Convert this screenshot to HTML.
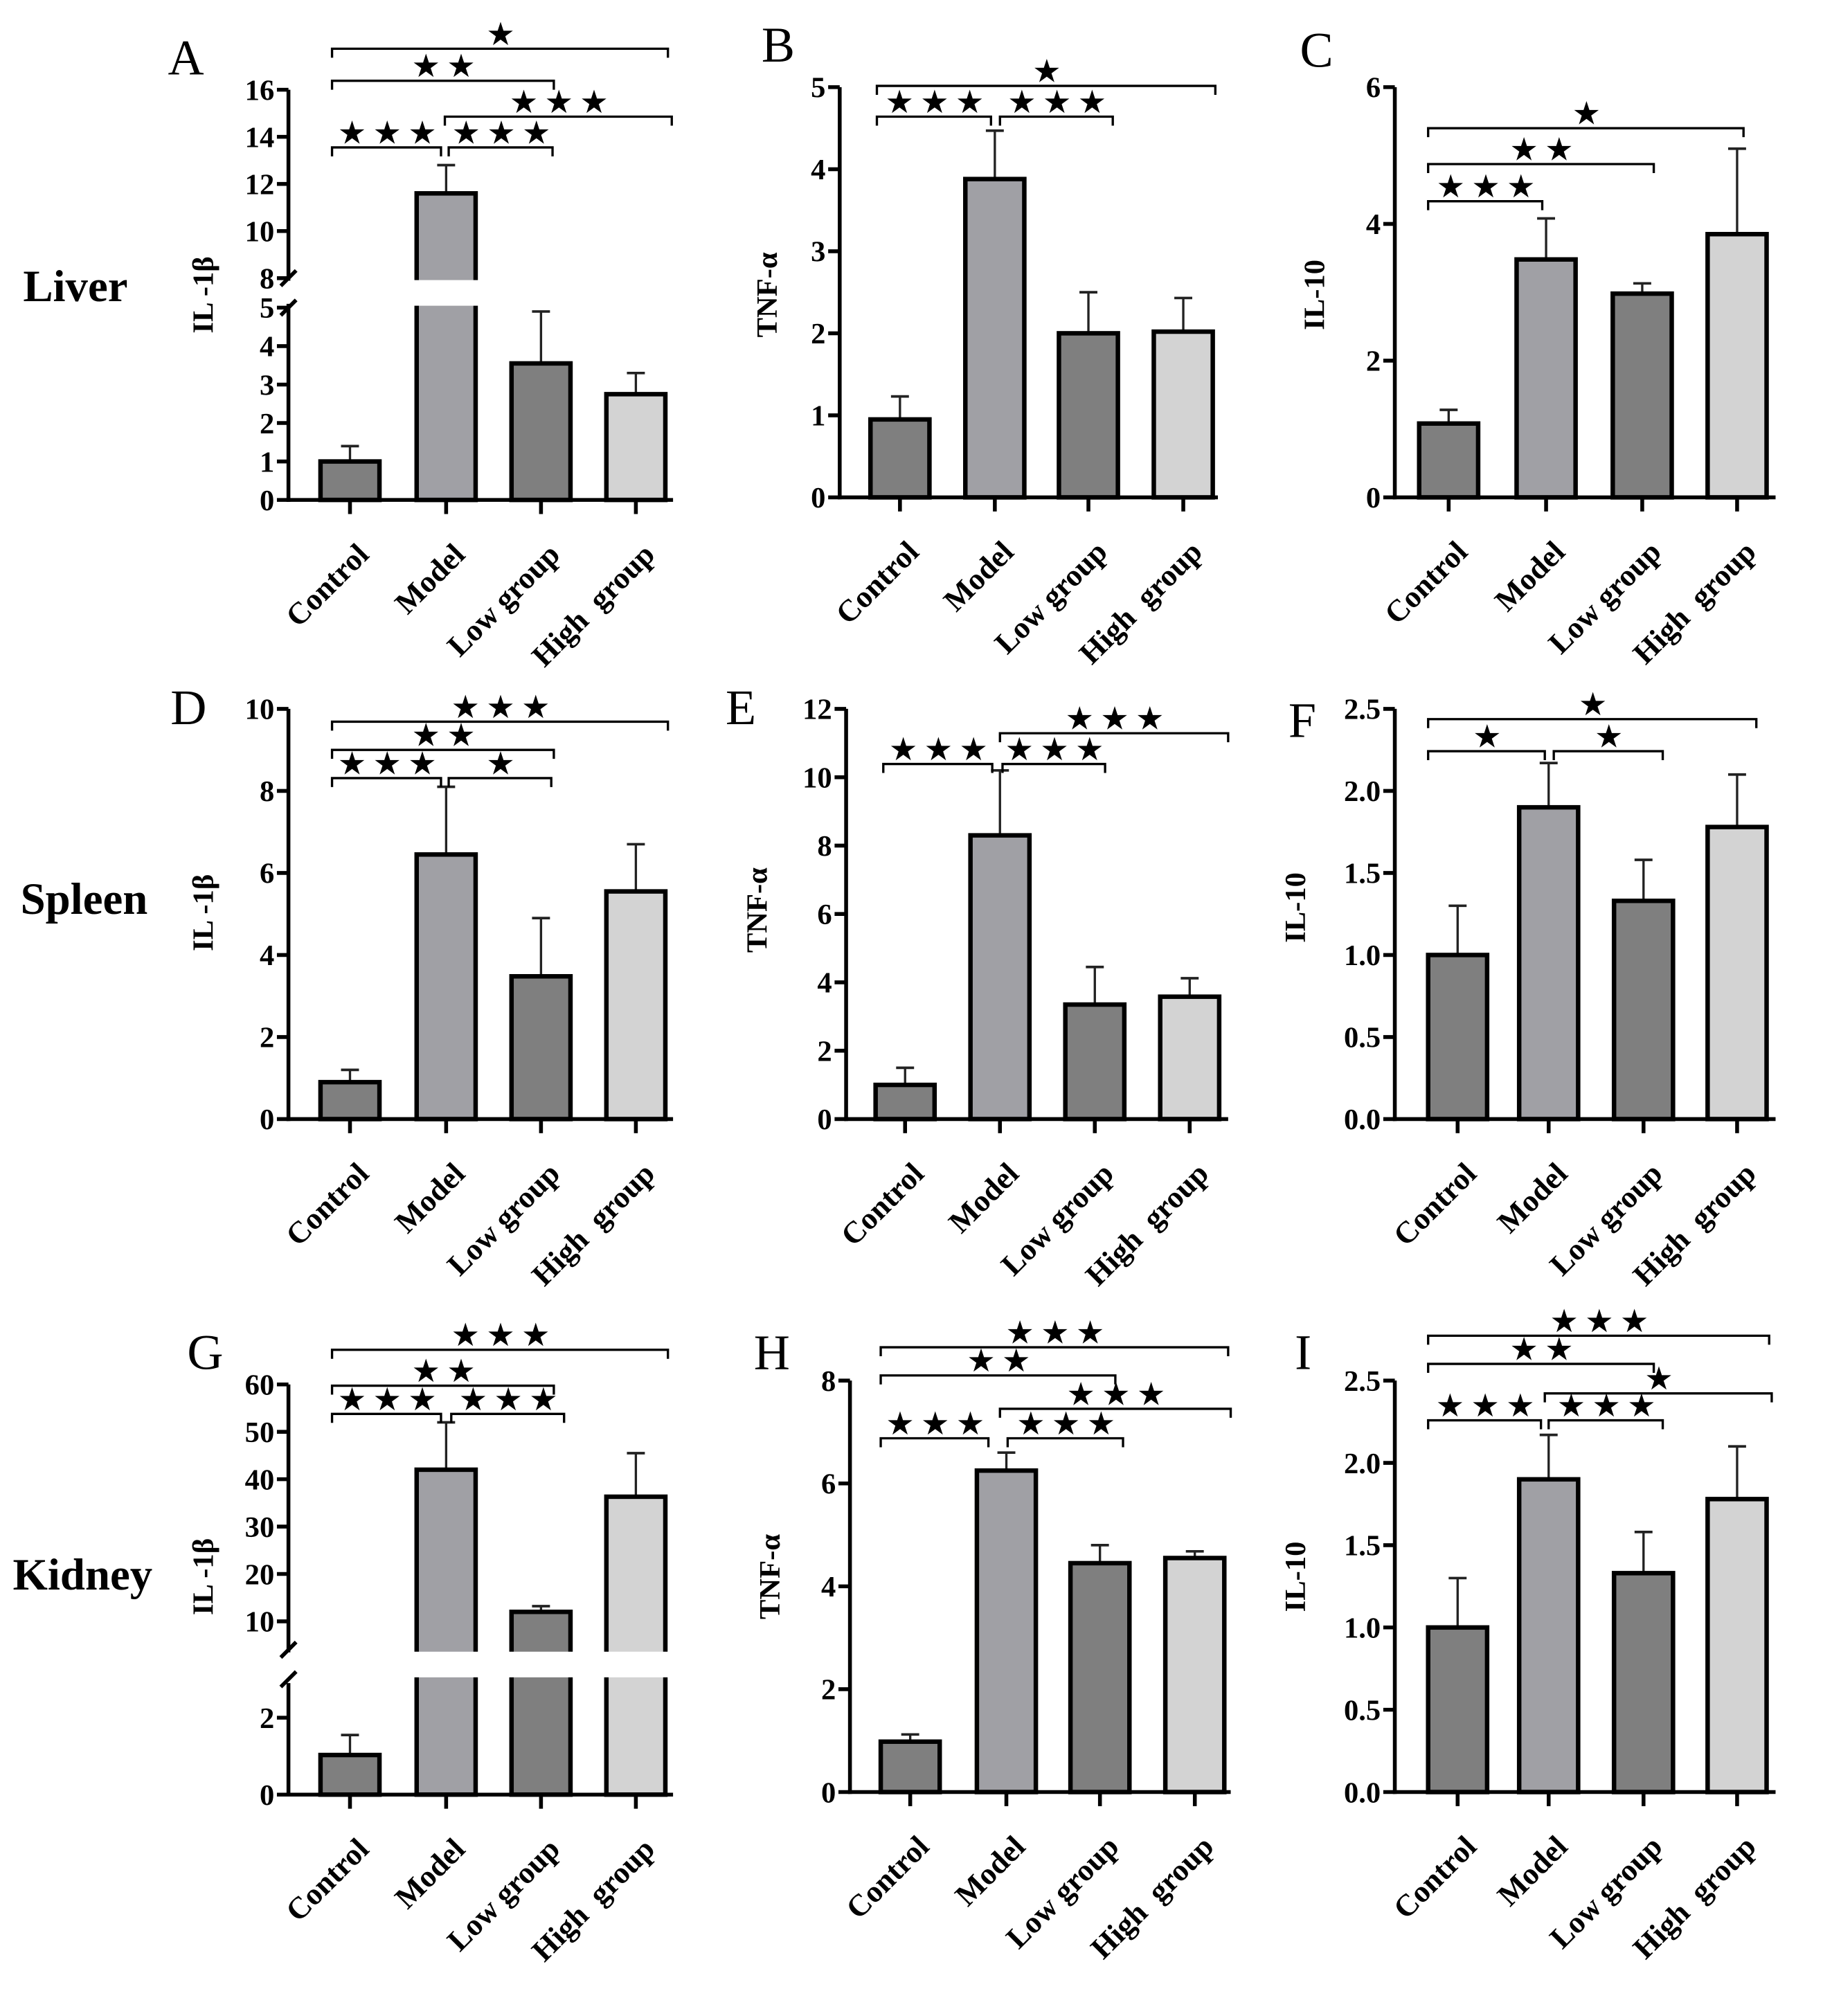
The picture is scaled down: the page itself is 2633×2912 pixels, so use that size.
<!DOCTYPE html>
<html><head><meta charset="utf-8"><style>
html,body{margin:0;padding:0;background:#fff}
svg{display:block}
text{font-family:"Liberation Serif",serif;font-weight:bold;fill:#000;white-space:pre}
.star{font-family:"DejaVu Sans",sans-serif;font-weight:normal}
</style></head><body>
<svg id="fig" width="2633" height="2912" viewBox="0 0 1422 1572.7" preserveAspectRatio="none" xmlns="http://www.w3.org/2000/svg"></svg>
<script>
const categories = ["Control", "Model", "Low group", "High  group"];
const fills = ["#7f7f7f", "#a0a0a5", "#7f7f7f", "#d3d3d3"];
const aValues = [1.0, 11.6, 3.55, 2.75];  const aErrors = [1.4, 12.8, 4.9, 3.3];
const bValues = [0.95, 3.88, 2.0, 2.02];  const bErrors = [1.23, 4.47, 2.5, 2.43];
const cValues = [1.08, 3.48, 2.98, 3.85]; const cErrors = [1.28, 4.08, 3.13, 5.1];
const dValues = [0.9, 6.45, 3.48, 5.55];  const dErrors = [1.2, 8.1, 4.9, 6.7];
const eValues = [1.0, 8.3, 3.35, 3.58];   const eErrors = [1.5, 10.2, 4.45, 4.12];
const fValues = [1.0, 1.9, 1.33, 1.78];   const fErrors = [1.3, 2.17, 1.58, 2.1];
const gValues = [1.03, 42, 12, 36.3];     const gErrors = [1.55, 52, 13.2, 45.5];
const hValues = [0.98, 6.25, 4.45, 4.55]; const hErrors = [1.12, 6.6, 4.8, 4.68];
const iValues = [1.0, 1.9, 1.33, 1.78];   const iErrors = [1.3, 2.17, 1.58, 2.1];
const ticksA_low = [0,1,2,3,4,5]; const ticksA_high = [8,10,12,14,16];
const ticksB = [0,1,2,3,4,5]; const ticksC = [0,2,4,6];
const ticksD = [0,2,4,6,8,10]; const ticksE = [0,2,4,6,8,10,12];
const ticksF = ["0.0","0.5","1.0","1.5","2.0","2.5"];
const ticksG_low = [0,2]; const ticksG_high = [10,20,30,40,50,60];
const ticksH = [0,2,4,6,8]; const ticksI = ["0.0","0.5","1.0","1.5","2.0","2.5"];

const NS = "http://www.w3.org/2000/svg";
const svg = document.getElementById("fig");
function el(tag, attrs, parent, txt) {
  const e = document.createElementNS(NS, tag);
  for (const k in attrs) e.setAttribute(k, attrs[k]);
  if (txt !== undefined) e.textContent = txt;
  (parent || svg).appendChild(e);
  return e;
}

const panels = [
 {id:"a", letter:"A", lx:131, ly:58, ylab:"IL -1β", ylx:166, yly:230, ax:225, base:390, xs:[273,348,422,496], right:525,
  vals:aValues, errs:aErrors,
  seg:[{lo:0,hi:5,y0:390,y1:240,ticks:ticksA_low},{lo:8,hi:16,y0:217,y1:70,ticks:ticksA_high}], gapTop:217, gapBot:240,
  br:[[38,259,521,1],[63,259,432,2],[91,347,524,3],[115,259,344,3],[115,350,431,3]]},
 {id:"b", letter:"B", lx:594, ly:48, ylab:"TNF-α", ylx:606, yly:230, ax:655, base:388, xs:[702,776,849,923], right:950,
  vals:bValues, errs:bErrors, seg:[{lo:0,hi:5,y0:388,y1:68,ticks:ticksB}],
  br:[[67,684,948,1],[91,684,773,3],[91,780,868,3]]},
 {id:"c", letter:"C", lx:1014, ly:52, ylab:"IL-10", ylx:1033, yly:230, ax:1088, base:388, xs:[1130,1206,1281,1355], right:1385,
  vals:cValues, errs:cErrors, seg:[{lo:0,hi:6,y0:388,y1:68,ticks:ticksC}],
  br:[[100,1114,1360,1],[128,1114,1290,2],[157,1114,1203,3]]},
 {id:"d", letter:"D", lx:133, ly:565, ylab:"IL -1β", ylx:166, yly:712, ax:225, base:873, xs:[273,348,422,496], right:525,
  vals:dValues, errs:dErrors, seg:[{lo:0,hi:10,y0:873,y1:553,ticks:ticksD}],
  br:[[563,259,521,3],[585,259,432,2],[607,259,344,3],[607,350,430,1]]},
 {id:"e", letter:"E", lx:566, ly:565, ylab:"TNF-α", ylx:598, yly:710, ax:660, base:873, xs:[706,780,854,928], right:958,
  vals:eValues, errs:eErrors, seg:[{lo:0,hi:12,y0:873,y1:553,ticks:ticksE}],
  br:[[572,780,958,3],[596,689,774,3],[596,782,862,3]]},
 {id:"f", letter:"F", lx:1005, ly:575, ylab:"IL-10", ylx:1018, yly:708, ax:1088, base:873, xs:[1137,1208,1282,1355], right:1385,
  vals:fValues, errs:fErrors, seg:[{lo:0,hi:2.5,y0:873,y1:553,ticks:ticksF}],
  br:[[561,1114,1370,1],[586,1114,1205,1],[586,1212,1297,1]]},
 {id:"g", letter:"G", lx:146, ly:1068, ylab:"IL -1β", ylx:166, yly:1230, ax:225, base:1400, xs:[273,348,422,496], right:525,
  vals:gValues, errs:gErrors,
  seg:[{lo:0,hi:2.8,y0:1400,y1:1316,ticks:ticksG_low},{lo:4,hi:60,y0:1287,y1:1080,ticks:ticksG_high}], gapTop:1287, gapBot:1310,
  br:[[1053,259,521,3],[1081,259,432,2],[1103,259,344,3],[1103,352,440,3]]},
 {id:"h", letter:"H", lx:588, ly:1068, ylab:"TNF-α", ylx:608, yly:1230, ax:663, base:1398, xs:[710,785,858,932], right:960,
  vals:hValues, errs:hErrors, seg:[{lo:0,hi:8,y0:1398,y1:1077,ticks:ticksH}],
  br:[[1051,687,958,3],[1073,687,870,2],[1099,780,960,3],[1122,687,771,3],[1122,786,876,3]]},
 {id:"i", letter:"I", lx:1010, ly:1068, ylab:"IL-10", ylx:1018, yly:1230, ax:1088, base:1398, xs:[1137,1208,1282,1355], right:1385,
  vals:iValues, errs:iErrors, seg:[{lo:0,hi:2.5,y0:1398,y1:1077,ticks:ticksI}],
  br:[[1042,1114,1380,3],[1064,1114,1290,2],[1087,1205,1382,1],[1108,1114,1202,3],[1108,1208,1297,3]]}
];

function yScale(p, v) {
  for (const s of p.seg) {
    if (v <= s.hi || s === p.seg[p.seg.length-1]) {
      if (v < s.lo && s !== p.seg[0]) continue;
      return s.y0 + (v - s.lo) / (s.hi - s.lo) * (s.y1 - s.y0);
    }
  }
}

[["Liver",18,235],["Spleen",16,713],["Kidney",10,1240]].forEach(r => {
  const t = el("text", {x:r[1], y:r[2], "font-size":35}, svg, r[0]);
  
  
});

panels.forEach(p => {
  const g = el("g", {});
  
  
  const L = el("text", {x:p.lx, y:p.ly, "font-size":39, style:"font-weight:normal"}, g, p.letter);
  
  
  const yl = el("text", {x:0, y:0, "font-size":23, "text-anchor":"middle", transform:`translate(${p.ylx},${p.yly}) rotate(-90)`}, g, p.ylab);
  
  
  p.seg.forEach((s, si) => {
    const top = si === p.seg.length-1 ? s.y1 : s.y1 - 3;
    const ax = el("line", {x1:p.ax, y1:s.y0 + (si===0?1.5:2), x2:p.ax, y2:top, stroke:"#000", "stroke-width":3}, g);
    
    
    s.ticks.forEach(t => {
      const y = yScale(p, parseFloat(t));
      el("line", {x1:p.ax-9, y1:y, x2:p.ax, y2:y, stroke:"#000", "stroke-width":3}, g);
      const tl = el("text", {x:p.ax-11, y:y+8, "font-size":23, "text-anchor":"end"}, g, t);
      
      
    });
  });
  if (p.gapTop) {
    el("line", {x1:p.ax-6, y1:p.gapTop+6, x2:p.ax+6, y2:p.gapTop-6, stroke:"#000", "stroke-width":3}, g);
    el("line", {x1:p.ax-6, y1:p.gapBot+6, x2:p.ax+6, y2:p.gapBot-6, stroke:"#000", "stroke-width":3}, g);
  }
  p.vals.forEach((v, i) => {
    const x = p.xs[i], y = yScale(p, v), ey = yScale(p, p.errs[i]);
    const eb = el("line", {x1:x, y1:y, x2:x, y2:ey, stroke:"#222", "stroke-width":1.8}, g);
    
    
    el("line", {x1:x-7, y1:ey, x2:x+7, y2:ey, stroke:"#222", "stroke-width":2}, g);
    const b = el("rect", {x:x-23, y:y, width:46, height:p.base-y, fill:fills[i], stroke:"#000", "stroke-width":3.5}, g);
    
    
    if (p.gapTop && y < p.gapTop) {
      el("rect", {x:x-27, y:p.gapTop+1.5, width:54, height:p.gapBot-p.gapTop-3, fill:"#fff"}, g);
    }
    el("line", {x1:x, y1:p.base, x2:x, y2:p.base+11, stroke:"#000", "stroke-width":3}, g);
    const xl = el("text", {x:0, y:0, "font-size":24, "text-anchor":"end", transform:`translate(${x+16},${p.base+44}) rotate(-45)`}, g, categories[i]);
    
    
  });
  const xa = el("line", {x1:p.ax-1.5, y1:p.base, x2:p.right, y2:p.base, stroke:"#000", "stroke-width":3}, g);
  
  
  p.br.forEach(b => {
    const [y, x1, x2, n] = b;
    const pb = el("path", {d:`M${x1},${y+7} V${y} H${x2} V${y+7}`, fill:"none", stroke:"#000", "stroke-width":1.8}, g);
    
    
    const st = el("text", {x:(x1+x2)/2 + 3, y:y-3, "font-size":25, "text-anchor":"middle", "letter-spacing":"5", class:"star"}, g, "★".repeat(n));
    
    
  });
});
</script>
</body></html>
